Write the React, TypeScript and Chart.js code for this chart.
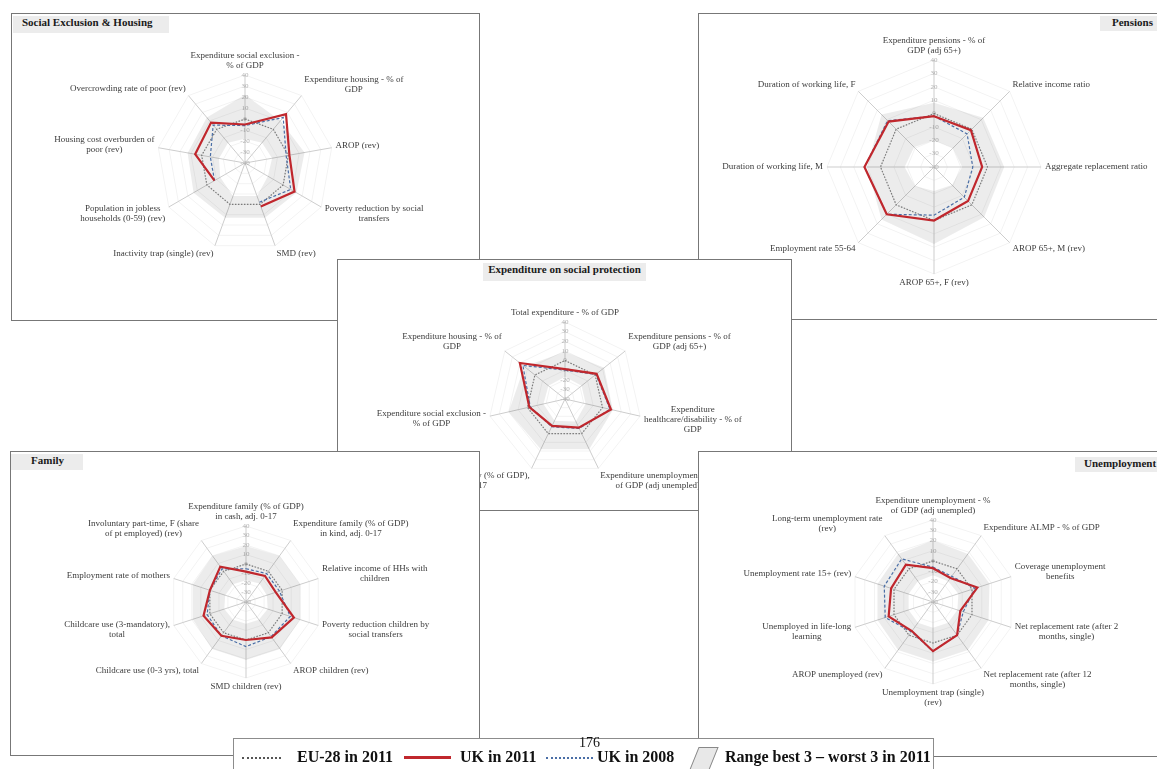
import React, { useEffect, useRef } from "react";
import { Chart, registerables } from "chart.js";
Chart.register(...registerables);

const SERIF = '"Liberation Serif", "DejaVu Serif", "Times New Roman", serif';
const RED = "#c0272d";
const BLUE = "#4a6ea6";
const EU_GRAY = "#7a7a7a";
const BAND = "rgba(0,0,0,0.075)";

// ---------- Social Exclusion & Housing ----------
const seLabels = [
  ["Expenditure social exclusion -", "% of GDP"],
  ["Expenditure housing - % of", "GDP"],
  ["AROP (rev)"],
  ["Poverty reduction by social", "transfers"],
  ["SMD (rev)"],
  ["Inactivity trap (single) (rev)"],
  ["Population in jobless", "households (0-59) (rev)"],
  ["Housing cost overburden of", "poor (rev)"],
  ["Overcrowding rate of poor (rev)"],
];
const seUK2011 = [-5, 18, 1, 12, 2, null, -8, 6, 8];
const seUK2008 = [-6, 14, -2, 8, -2, null, -8, -8, 5];
const seEU2011 = [0, 0, 0, 0, 0, 0, 0, 0, 0];
const seBest3 = [22, 10, 15, 14, 13, 13, 14, 13, 14];
const seWorst3 = [-18, -16, -15, -16, -8, -8, -14, -16, -16];

// ---------- Pensions ----------
const pnLabels = [
  ["Expenditure pensions - % of", "GDP (adj 65+)"],
  ["Relative income ratio"],
  ["Aggregate replacement ratio"],
  ["AROP 65+, M (rev)"],
  ["AROP 65+, F (rev)"],
  ["Employment rate 55-64"],
  ["Duration of working life, M"],
  ["Duration of working life, F"],
];
const pnUK2011 = [-2, -1, -4, -4, 0, 10, 12, 8];
const pnUK2008 = [-2, -5, -11, -8, -4, 10, 12, 9];
const pnEU2011 = [0, 0, 0, 0, 0, 0, 0, 0];
const pnBest3 = [8, 12, 12.5, 13, 17.5, 15.5, 10, 15.5];
const pnWorst3 = [-20, -20, -19, -21, -22, -20, -18, -19];

// ---------- Expenditure on social protection ----------
const exLabels = [
  ["Total expenditure - % of GDP"],
  ["Expenditure pensions - % of", "GDP (adj 65+)"],
  ["Expenditure", "healthcare/disability - % of", "GDP"],
  ["Expenditure unemployment - %", "of GDP (adj unempled)"],
  ["Expenditure family (% of GDP),", "adj. 0-17"],
  ["Expenditure social exclusion -", "% of GDP"],
  ["Expenditure housing - % of", "GDP"],
];
const exUK2011 = [-9, 2, 9, -7, -9, -2, 20];
const exUK2008 = [-10, 1, 8, -6, -8, -3, 16];
const exEU2011 = [0, 0, 0, 0, 0, 0, 0];
const exBest3 = [9, 12, 11, 18, 18, 20, 14];
const exWorst3 = [-17, -18, -18, -14, -15, -17, -18];

// ---------- Family ----------
const faLabels = [
  ["Expenditure family (% of GDP)", "in cash, adj. 0-17"],
  ["Expenditure family (% of GDP)", "in kind, adj. 0-17"],
  ["Relative income of HHs with", "children"],
  ["Poverty reduction children by", "social transfers"],
  ["AROP children (rev)"],
  ["SMD children (rev)"],
  ["Childcare use (0-3 yrs), total"],
  ["Childcare use (3-mandatory),", "total"],
  ["Employment rate of mothers"],
  ["Involuntary part-time, F (share", "of pt employed) (rev)"],
];
const faUK2011 = [-8, -6, -7, 13, 6, 0, 4, 7, 0, 6];
const faUK2008 = [-5, -3, -3, 9, 5, 7, 4, 3, 0, 3];
const faEU2011 = [0, 0, 0, 0, 0, 0, 0, 0, 0, 0];
const faBest3 = [19, 20, 20, 20, 21, 21, 21, 19, 19, 20];
const faWorst3 = [-17, -16, -17, -16, -17, -17, -17, -16, -17, -17];

// ---------- Unemployment ----------
const unLabels = [
  ["Expenditure unemployment - %", "of GDP (adj unempled)"],
  ["Expenditure ALMP - % of GDP"],
  ["Coverage unemployment", "benefits"],
  ["Net replacement rate (after 2", "months, single)"],
  ["Net replacement rate (after 12", "months, single)"],
  ["Unemployment trap (single)", "(rev)"],
  ["AROP unemployed (rev)"],
  ["Unemployed in life-long", "learning"],
  ["Unemployment rate 15+ (rev)"],
  ["Long-term unemployment rate", "(rev)"],
];
const unUK2011 = [-7, -11, 5.5, -12, 0, 8, -5, 5.5, 3, 5];
const unUK2008 = [-6, -9, 3, -9, 0, 8, -4, 9, 10, 12];
const unEU2011 = [0, 0, 0, 0, 0, 0, 0, 0, 0, 0];
const unBest3 = [20, 18, 18, 17, 18, 18, 18, 17, 17, 18];
const unWorst3 = [-14, -15, -14, -15, -15, -15, -15, -15, -15, -15];

const tickValues = [-40, -30, -20, -10, 0, 10, 20, 30, 40];

const labelPlugin = {
  id: "outerLabels",
  afterDraw(chart: any) {
    const scale = chart.scales.r;
    const ctx = chart.ctx as CanvasRenderingContext2D;
    const labels = chart.data.labels as string[][];
    const n = labels.length;
    const lh = 10;
    ctx.save();
    ctx.font = `9px ${SERIF}`;
    ctx.fillStyle = "#3c3c3c";
    ctx.textBaseline = "top";
    labels.forEach((lab, i) => {
      const lines = Array.isArray(lab) ? lab : [lab];
      const theta = (i * 2 * Math.PI) / n;
      const p = scale.getPointPosition(i, scale.drawingArea + 4);
      const w = Math.max(...lines.map((l) => ctx.measureText(l).width));
      const h = lines.length * lh;
      const s = Math.sin(theta);
      const c = Math.cos(theta);
      let left: number;
      if (Math.abs(s) < 0.02) left = p.x - w / 2;
      else if (s > 0) left = p.x;
      else left = p.x - w;
      const top = p.y - (h * (1 + c)) / 2;
      lines.forEach((l, k) => {
        const lw = ctx.measureText(l).width;
        ctx.fillText(l, left + (w - lw) / 2, top + k * lh);
      });
    });
    ctx.restore();
  },
};

type Spec = {
  title: string;
  titleBox: { x: number; y: number; w: number; h: number; align: "left" | "center" | "right"; tx: number };
  x: number; y: number; w: number; h: number;
  cx: number; cy: number; R: number;
  labels: string[][];
  uk11: (number | null)[]; uk08: (number | null)[]; eu: number[];
  best: number[]; worst: number[];
  z: number;
};

function RadarPanel({ spec }: { spec: Spec }) {
  const ref = useRef<HTMLCanvasElement>(null);
  useEffect(() => {
    const canvas = ref.current!;
    const { w, h, cx, cy, R } = spec;
    const chart = new Chart(canvas, {
      type: "radar",
      data: {
        labels: spec.labels as any,
        datasets: [
          { label: "UK in 2011", data: spec.uk11 as any, borderColor: RED, borderWidth: 2.2, pointRadius: 0, fill: false },
          { label: "UK in 2008", data: spec.uk08 as any, borderColor: BLUE, borderDash: [3, 2], borderWidth: 1.2, pointRadius: 0, fill: false },
          { label: "EU-28 in 2011", data: spec.eu, borderColor: EU_GRAY, borderDash: [1.5, 1.5], borderWidth: 1.2, pointRadius: 0, fill: false },
          { label: "Best 3", data: spec.best, borderColor: "rgba(0,0,0,0)", borderWidth: 0, backgroundColor: BAND, fill: "+1", pointRadius: 0 },
          { label: "Worst 3", data: spec.worst, borderColor: "rgba(0,0,0,0)", borderWidth: 0, pointRadius: 0, fill: false },
        ],
      },
      options: {
        animation: false,
        responsive: false,
        maintainAspectRatio: false,
        events: [],
        layout: { padding: { left: cx - R, right: w - cx - R, top: cy - R, bottom: h - cy - R } },
        plugins: { legend: { display: false }, tooltip: { enabled: false } },
        elements: { line: { tension: 0 } },
        scales: {
          r: {
            min: -40,
            max: 40,
            afterBuildTicks: (sc: any) => { sc.ticks = tickValues.map((v) => ({ value: v })); },
            ticks: { showLabelBackdrop: false, color: "#b0b0b0", font: { family: SERIF, size: 7 } },
            grid: { circular: false, color: "#f3f3f3", lineWidth: 1 },
            angleLines: { color: "#cdcdcd", lineWidth: 1 },
            pointLabels: { display: false },
          },
        },
      } as any,
      plugins: [labelPlugin],
    });
    return () => chart.destroy();
  }, []);
  const tb = spec.titleBox;
  return (
    <div
      style={{
        position: "absolute", left: spec.x, top: spec.y, width: spec.w, height: spec.h,
        border: "1px solid #777", background: "#fff", zIndex: spec.z, boxSizing: "border-box",
      }}
    >
      <canvas ref={ref} width={spec.w} height={spec.h} style={{ position: "absolute", left: -1, top: -1, width: spec.w, height: spec.h }} />
      <div
        style={{
          position: "absolute", left: tb.x, top: tb.y, width: tb.w, height: tb.h, background: "#ececec",
        }}
      />
      <div
        style={{
          position: "absolute", left: tb.tx, top: tb.y, height: tb.h, lineHeight: tb.h + "px",
          font: `bold 11px ${SERIF}`, color: "#1a1a1a", whiteSpace: "nowrap",
          width: tb.align === "center" ? tb.w : undefined, textAlign: tb.align === "center" ? "center" : "left",
        }}
      >
        {spec.title}
      </div>
    </div>
  );
}

const specs: Spec[] = [
  {
    title: "Social Exclusion & Housing",
    titleBox: { x: 1, y: 2, w: 156, h: 17, align: "left", tx: 10 },
    x: 11, y: 13, w: 469, h: 308, cx: 234, cy: 150, R: 94,
    labels: seLabels, uk11: seUK2011, uk08: seUK2008, eu: seEU2011, best: seBest3, worst: seWorst3, z: 1,
  },
  {
    title: "Pensions",
    titleBox: { x: 401, y: 2, w: 72, h: 15, align: "left", tx: 413 },
    x: 698, y: 13, w: 472, h: 307, cx: 236, cy: 154, R: 113,
    labels: pnLabels, uk11: pnUK2011, uk08: pnUK2008, eu: pnEU2011, best: pnBest3, worst: pnWorst3, z: 1,
  },
  {
    title: "Expenditure on social protection",
    titleBox: { x: 145, y: 3, w: 163, h: 18, align: "center", tx: 145 },
    x: 337, y: 259, w: 455, h: 252, cx: 228, cy: 140, R: 83,
    labels: exLabels, uk11: exUK2011, uk08: exUK2008, eu: exEU2011, best: exBest3, worst: exWorst3, z: 2,
  },
  {
    title: "Family",
    titleBox: { x: 0, y: 2, w: 72, h: 16, align: "left", tx: 20 },
    x: 10, y: 451, w: 470, h: 305, cx: 236, cy: 151, R: 82,
    labels: faLabels, uk11: faUK2011, uk08: faUK2008, eu: faEU2011, best: faBest3, worst: faWorst3, z: 3,
  },
  {
    title: "Unemployment",
    titleBox: { x: 376, y: 5, w: 96, h: 15, align: "left", tx: 385 },
    x: 698, y: 451, w: 472, h: 306, cx: 235, cy: 151, R: 88,
    labels: unLabels, uk11: unUK2011, uk08: unUK2008, eu: unEU2011, best: unBest3, worst: unWorst3, z: 3,
  },
];

const legendText: React.CSSProperties = {
  position: "absolute", top: 748, height: 20, lineHeight: "20px", font: `bold 16px ${SERIF}`, color: "#111", whiteSpace: "nowrap",
};

export default function App() {
  return (
    <div style={{ position: "absolute", left: 0, top: 0, width: 1157, height: 769, overflow: "hidden", background: "#fff" }}>
      {specs.map((s) => (
        <RadarPanel key={s.title} spec={s} />
      ))}
      <div style={{ position: "absolute", left: 233, top: 738, width: 701, height: 45, border: "1px solid #8c8c8c", background: "#fff", zIndex: 5, boxSizing: "border-box" }} />
      <div style={{ position: "absolute", zIndex: 6, left: 0, top: 0, width: 1157, height: 769 }}>
        <div style={{ position: "absolute", left: 242, top: 757, width: 39, borderTop: "2px dotted #555" }} />
        <div style={{ ...legendText, left: 297 }}>EU-28 in 2011</div>
        <div style={{ position: "absolute", left: 404, top: 756, width: 47, height: 3, background: RED }} />
        <div style={{ ...legendText, left: 460 }}>UK in 2011</div>
        <div style={{ position: "absolute", left: 546, top: 757, width: 47, borderTop: "2px dotted " + BLUE }} />
        <div style={{ ...legendText, left: 597 }}>UK in 2008</div>
        <div style={{ position: "absolute", left: 694, top: 747, width: 18, height: 21, background: "#e8e8e8", border: "1px solid #888", transform: "skewX(-22deg)" }} />
        <div style={{ ...legendText, left: 725 }}>Range best 3 – worst 3 in 2011</div>
        <div style={{ position: "absolute", left: 579, top: 735, font: `14px ${SERIF}`, color: "#111", lineHeight: "16px" }}>176</div>
      </div>
    </div>
  );
}
